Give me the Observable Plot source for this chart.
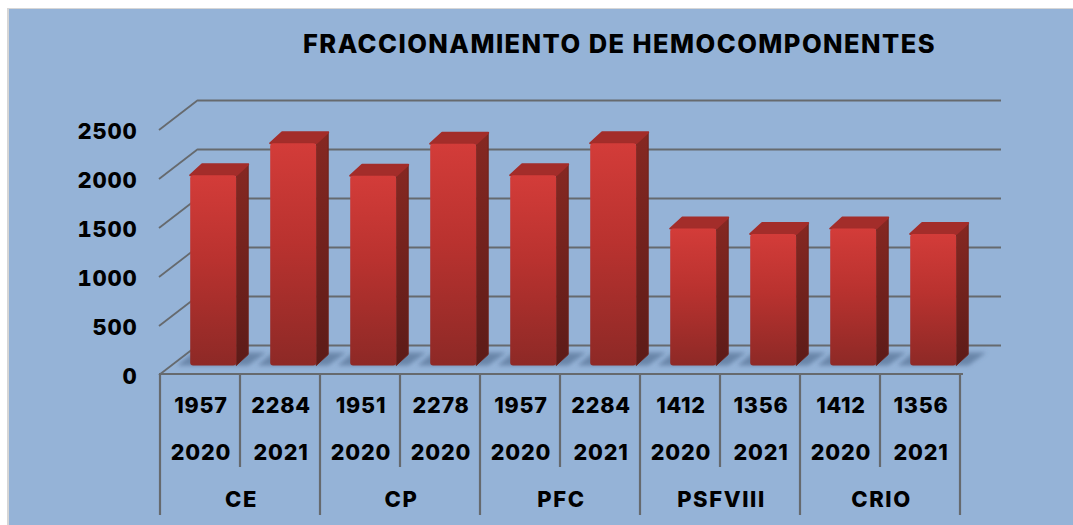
<!DOCTYPE html>
<html>
<head>
<meta charset="utf-8">
<script src="https://cdn.jsdelivr.net/npm/d3@7"></script>
<script src="https://cdn.jsdelivr.net/npm/@observablehq/plot@0.6"></script>
<style>html,body{margin:0;padding:0;background:#fff;overflow:hidden}</style>
</head>
<body>
<div id="chart"></div>
<script>
const chartTitle = "FRACCIONAMIENTO DE HEMOCOMPONENTES";
const categories = ["CE", "CP", "PFC", "PSFVIII", "CRIO"];
const years = [2020, 2021, 2020, 2020, 2020, 2021, 2020, 2021, 2020, 2021];
const values = [1957, 2284, 1951, 2278, 1957, 2284, 1412, 1356, 1412, 1356];
const yTicks = [0, 500, 1000, 1500, 2000, 2500];

const rows = values.map((value, i) => ({
  key: i,
  category: categories[Math.floor(i / 2)],
  year: years[i],
  value
}));
const firstOfGroup = rows.filter(d => d.key % 2 === 0);

const gridGrey = "#666a6e";
const font = "Inter, 'Open Sans', sans-serif";

// 3D offsets of the picture
const wallDx = 38, wallDy = -29;
const barDx = 12.2, barDy = -8.5, barInsetTop = 1.5;
const depthX = 12, depthY = -11;

function ns(tag) { return document.createElementNS("http://www.w3.org/2000/svg", tag); }
function poly(points, attrs) {
  const p = ns("polygon");
  p.setAttribute("points", points.map(d => d.join(",")).join(" "));
  for (const k in attrs) p.setAttribute(k, attrs[k]);
  return p;
}
function stopGradient(id, stops) {
  const g = ns("linearGradient");
  g.setAttribute("id", id);
  g.setAttribute("x1", 0); g.setAttribute("x2", 0); g.setAttribute("y1", 0); g.setAttribute("y2", 1);
  stops.forEach(([o, c]) => {
    const s = ns("stop");
    s.setAttribute("offset", o); s.setAttribute("stop-color", c);
    g.appendChild(s);
  });
  return g;
}

// gradients and blur
function defsMark() {
  const defs = ns("defs");
  defs.appendChild(stopGradient("front", [[0, "#d33c39"], [0.45, "#b9322f"], [1, "#8d2926"]]));
  defs.appendChild(stopGradient("side", [[0, "#862822"], [1, "#5c1b18"]]));
  const f = ns("filter");
  f.setAttribute("id", "soft");
  f.setAttribute("x", "-20%"); f.setAttribute("y", "-40%"); f.setAttribute("width", "140%"); f.setAttribute("height", "180%");
  const b = ns("feGaussianBlur");
  b.setAttribute("stdDeviation", "2.2");
  f.appendChild(b);
  defs.appendChild(f);
  return defs;
}

// diagonals from the axis to the back wall
function wallDiagonals(index, {y}, v, {marginLeft}) {
  const g = ns("g");
  yTicks.forEach(t => {
    const l = ns("line");
    l.setAttribute("x1", marginLeft - 1); l.setAttribute("y1", y(t) + 1);
    l.setAttribute("x2", marginLeft + wallDx); l.setAttribute("y2", y(t) + wallDy);
    l.setAttribute("stroke", gridGrey); l.setAttribute("stroke-width", 1.8);
    g.appendChild(l);
  });
  return g;
}

// floor shadows behind each bar
function shadows(index, {x, y}) {
  const g = ns("g");
  const step = x(1) - x(0), w = step * 0.575;
  rows.forEach(d => {
    const left = x(d.key) + barDx, right = left + w, base = y(0) + barDy;
    g.appendChild(poly([[left - 13, base], [left + 3, base - 13], [right + 30, base - 13], [right + 12, base]],
      {fill: "#4d688b", "fill-opacity": 0.6, filter: "url(#soft)"}));
  });
  return g;
}

// side and top faces of each bar
function faces(index, {x, y}) {
  const g = ns("g");
  const step = x(1) - x(0), w = step * 0.575;
  rows.forEach(d => {
    const left = x(d.key) + barDx, right = left + w;
    const top = y(d.value) + barDy + barInsetTop, base = y(0) + barDy;
    g.appendChild(poly([[right, top], [right + depthX, top + depthY], [right + depthX, base + depthY], [right, base]],
      {fill: "url(#side)", stroke: "#6e2019", "stroke-width": 1, "stroke-linejoin": "round"}));
    g.appendChild(poly([[left, top], [left + depthX, top + depthY], [right + depthX, top + depthY], [right, top]],
      {fill: "#a32d2a", stroke: "#a32d2a", "stroke-width": 2, "stroke-linejoin": "round"}));
  });
  return g;
}

// table below the axis
function tableLines(index, {x, y}, v, {marginLeft, width, marginRight}) {
  const g = ns("g");
  const step = x(1) - x(0), y0 = y(0);
  const right = width - marginRight;
  const add = (x1, y1, x2, y2) => {
    const l = ns("line");
    l.setAttribute("x1", x1); l.setAttribute("y1", y1); l.setAttribute("x2", x2); l.setAttribute("y2", y2);
    l.setAttribute("stroke", gridGrey); l.setAttribute("stroke-width", 2.2);
    g.appendChild(l);
  };
  add(marginLeft - 1, y0, right + 1, y0);
  for (let i = 0; i <= values.length; i++) {
    add(marginLeft + i * step, y0, marginLeft + i * step, i % 2 === 0 ? 515 : 467);
  }
  return g;
}

const plot = Plot.plot({
  width: 1073,
  height: 525,
  marginLeft: 160,
  marginRight: 111,
  marginTop: 129,
  marginBottom: 151,
  style: {
    background: "linear-gradient(#95b3d7,#95b3d7) no-repeat 9px 9px / 100% 100%, linear-gradient(#d6d6d6,#d6d6d6) no-repeat 7px 8px / 100% 100%, #fff",
    fontFamily: font,
    fontWeight: 800,
    color: "#000",
    letterSpacing: "0.8px",
    overflow: "visible"
  },
  x: {domain: rows.map(d => d.key), paddingInner: 0.425, paddingOuter: 0.2125, align: 0.5, axis: null},
  y: {domain: [0, 2500], ticks: yTicks},
  marks: [
    defsMark,
    Plot.ruleY(yTicks, {stroke: gridGrey, strokeWidth: 1.8, dx: wallDx, dy: wallDy, insetRight: -1}),
    wallDiagonals,
    shadows,
    faces,
    Plot.barY(rows, {x: "key", y: "value", fill: "url(#front)", rx: 3, dx: barDx, dy: barDy, insetTop: barInsetTop}),
    tableLines,
    Plot.axisY(yTicks, {
      anchor: "left", tickSize: 0, tickPadding: 23, label: null, fontSize: 22, dy: 2,
      tickFormat: d => String(d), fill: "#000"
    }),
    Plot.text(rows, {x: "key", text: d => String(d.value), frameAnchor: "bottom", dx: -0.5, dy: 38, fontSize: 21.5, fill: "#000", fontWeight: 800}),
    Plot.text(rows, {x: "key", text: d => String(d.year), frameAnchor: "bottom", dx: -0.5, dy: 85, fontSize: 21.5, fill: "#000", fontWeight: 800}),
    Plot.text(firstOfGroup, {x: "key", text: "category", frameAnchor: "bottom", dx: 40, dy: 132, fontSize: 22, fill: "#000", fontWeight: 800}),
    Plot.text([chartTitle], {frameAnchor: "top", dx: 58, dy: -95, fontSize: 25.5, fill: "#000", fontWeight: 800})
  ]
});
plot.querySelectorAll("text").forEach(t => {
  const s = t.textContent;
  if (s === chartTitle) t.style.letterSpacing = "1.45px";
  else if (categories.includes(s)) t.style.letterSpacing = "1.6px";
});
document.getElementById("chart").appendChild(plot);
</script>
</body>
</html>
